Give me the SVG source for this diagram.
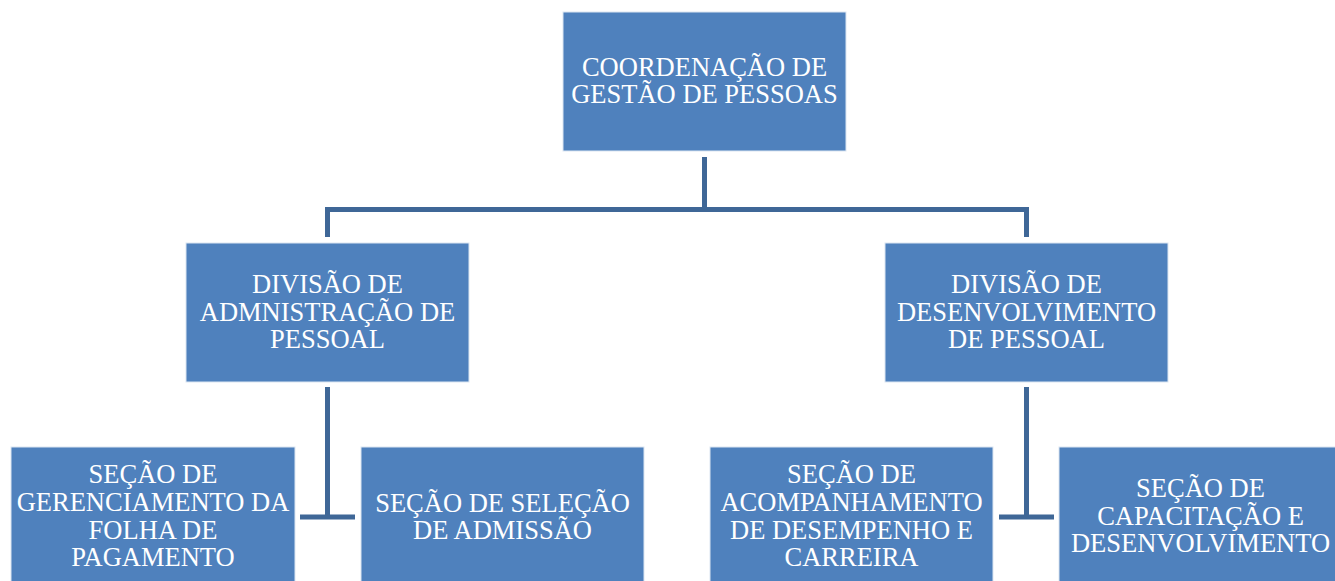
<svg xmlns="http://www.w3.org/2000/svg" width="1335" height="581" viewBox="0 0 1335 581">
<style>
.box{fill:#4F81BD;stroke:#DCE6F2;stroke-width:1}
.t{font-family:"Liberation Serif","Times New Roman",serif;font-size:26.5px;fill:#FFFFFF;text-anchor:middle}
.c{fill:none;stroke:#3F6797;stroke-width:5}
</style>
<rect width="1335" height="581" fill="#FFFFFF"/>
<g id="connectors">
<path class="c" d="M704.5 157 V209.5 M327.5 237 V209.5 H1026.5 V237"/>
<path class="c" d="M327.5 387 V517 M300 517 H355"/>
<path class="c" d="M1026.5 387 V517 M999 517 H1054"/>
</g>
<g id="coord">
<rect class="box" x="563" y="12" width="283" height="139"/>
<text class="t" x="704.5" y="76">COORDENAÇÃO DE</text>
<text class="t" x="704.5" y="103">GESTÃO DE PESSOAS</text>
</g>
<g id="div-adm">
<rect class="box" x="186" y="243" width="283" height="139"/>
<text class="t" x="327.5" y="293">DIVISÃO DE</text>
<text class="t" x="327.5" y="320.5">ADMNISTRAÇÃO DE</text>
<text class="t" x="327.5" y="348">PESSOAL</text>
</g>
<g id="div-des">
<rect class="box" x="885" y="243" width="283" height="139"/>
<text class="t" x="1026.5" y="293">DIVISÃO DE</text>
<text class="t" x="1026.5" y="320.5">DESENVOLVIMENTO</text>
<text class="t" x="1026.5" y="348">DE PESSOAL</text>
</g>
<g id="sec-folha">
<rect class="box" x="11" y="447" width="284" height="140"/>
<text class="t" x="153" y="483">SEÇÃO DE</text>
<text class="t" x="153" y="511">GERENCIAMENTO DA</text>
<text class="t" x="153" y="538.5">FOLHA DE</text>
<text class="t" x="153" y="566">PAGAMENTO</text>
</g>
<g id="sec-selecao">
<rect class="box" x="361" y="447" width="283" height="140"/>
<text class="t" x="502.5" y="512">SEÇÃO DE SELEÇÃO</text>
<text class="t" x="502.5" y="539">DE ADMISSÃO</text>
</g>
<g id="sec-acomp">
<rect class="box" x="710" y="447" width="283" height="140"/>
<text class="t" x="851.5" y="483">SEÇÃO DE</text>
<text class="t" x="851.5" y="511">ACOMPANHAMENTO</text>
<text class="t" x="851.5" y="538.5">DE DESEMPENHO E</text>
<text class="t" x="851.5" y="566">CARREIRA</text>
</g>
<g id="sec-capac">
<rect class="box" x="1059" y="447" width="283" height="140"/>
<text class="t" x="1200.5" y="497">SEÇÃO DE</text>
<text class="t" x="1200.5" y="525">CAPACITAÇÃO E</text>
<text class="t" x="1200.5" y="552">DESENVOLVIMENTO</text>
</g>
</svg>
